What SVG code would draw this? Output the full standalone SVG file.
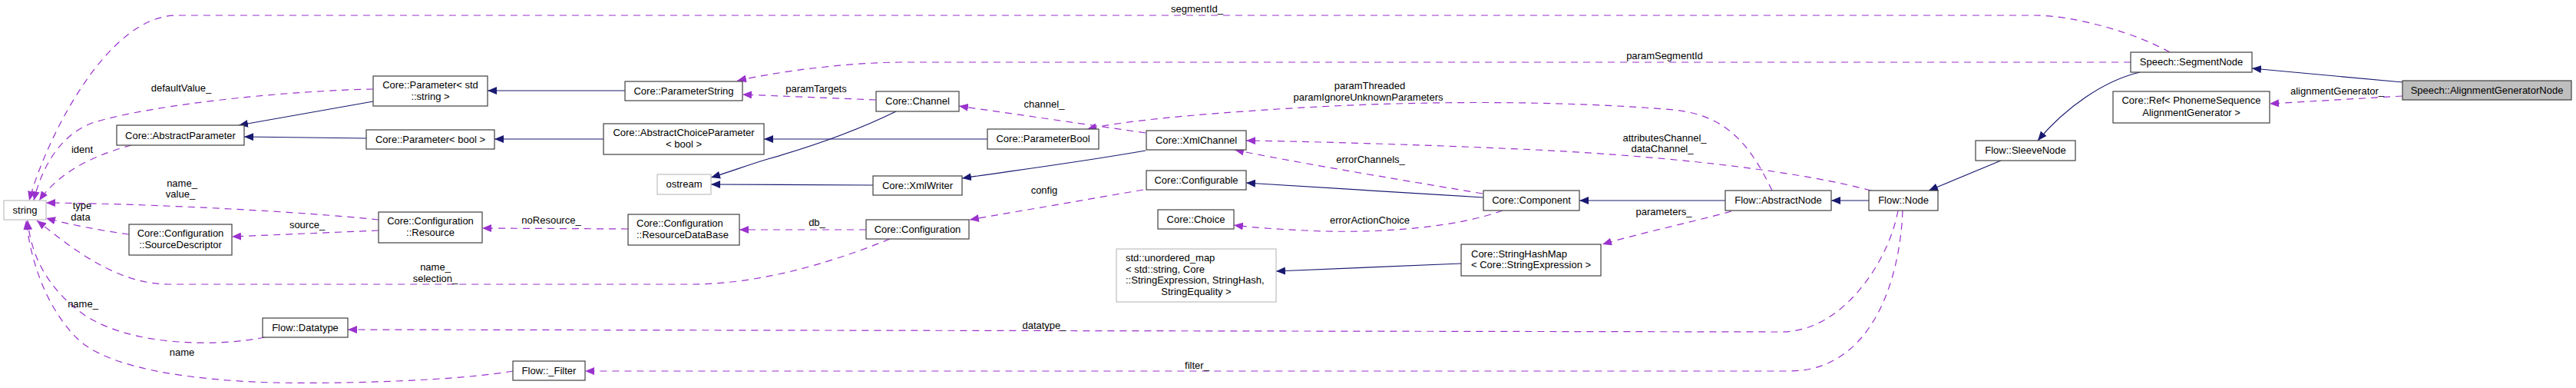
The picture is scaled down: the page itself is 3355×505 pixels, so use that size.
<svg xmlns="http://www.w3.org/2000/svg" width="3355" height="505" viewBox="0 0 3355 505">
<style>
.bg{fill:#ffffff}
.n rect{fill:#ffffff;stroke:#404040;stroke-width:1.2}
.n.u rect{stroke:#bfbfbf}
.n.cur rect{fill:#bfbfbf}
text{font-family:"Liberation Sans",Arial,sans-serif;font-size:13px;fill:#000000}
.c{text-anchor:middle}
.e{fill:none;stroke:#9a32cd;stroke-width:1.2;stroke-dasharray:9,7;marker-end:url(#ap)}
.i{fill:none;stroke:#191970;stroke-width:1.2;marker-end:url(#ab)}
</style>
<defs>
<marker id="ap" markerUnits="userSpaceOnUse" viewBox="0 0 12 10" markerWidth="12" markerHeight="10" refX="12" refY="5" orient="auto"><path d="M0,0 L12,5 L0,10 z" fill="#9a32cd"/></marker>
<marker id="ab" markerUnits="userSpaceOnUse" viewBox="0 0 12 10" markerWidth="12" markerHeight="10" refX="12" refY="5" orient="auto"><path d="M0,0 L12,5 L0,10 z" fill="#191970"/></marker>
</defs>
<rect class="bg" x="0" y="0" width="3355" height="505"/>
<g id="connectors">
<path class="e" d="M2826,68 C2780,42 2700,20 2650,20 L230,20 C140,20 60,180 38,261"/>
<path class="e" d="M486,116 C380,118 200,135 120,160 C80,175 55,215 44,261"/>
<path class="e" d="M171,189 C130,200 80,220 51,261"/>
<path class="e" d="M493,286 C400,276 200,265 60,264"/>
<path class="e" d="M168,305 C130,300 90,292 60,284"/>
<path class="e" d="M493,300 L302,308"/>
<path class="e" d="M1159,311 C1100,335 1000,370 900,370 L220,370 C150,370 90,320 48,287"/>
<path class="e" d="M345,439 C280,452 170,450 110,410 C60,375 40,330 36,287"/>
<path class="e" d="M668,483 C600,495 450,500 357,498 C250,495 140,480 100,440 C60,400 40,340 34,287"/>
<path class="e" d="M818,298 L628,297"/>
<path class="e" d="M1128,299 L963,299"/>
<path class="e" d="M1489,247 L1263,286"/>
<path class="e" d="M1141,130 L967,123"/>
<path class="e" d="M2775,81 L1170,81 C1100,82 1020,92 960,105"/>
<path class="e" d="M1492,173 L1249,138"/>
<path class="e" d="M2308,248 C2280,190 2250,150 2180,143 C2050,132 1850,128 1620,145 C1520,152 1450,160 1416,168"/>
<path class="e" d="M2437,248 C2350,225 2200,205 2000,195 C1850,188 1700,184 1623,183"/>
<path class="e" d="M1931,252 C1800,230 1680,210 1608,195"/>
<path class="e" d="M1957,274 C1900,295 1800,305 1700,300 C1660,298 1630,296 1607,293"/>
<path class="e" d="M3129,125 L2956,135"/>
<path class="e" d="M2255,275 C2200,290 2130,305 2087,318"/>
<path class="e" d="M2472,274 C2460,340 2400,432 2320,432 L453,429"/>
<path class="e" d="M2478,274 C2475,360 2440,483 2330,483 L762,483"/>
<path class="i" d="M814,118 L635,118"/>
<path class="i" d="M486,132 L311,163"/>
<path class="i" d="M477,180 L318,178"/>
<path class="i" d="M786,181 L644,181"/>
<path class="i" d="M1286,181 L995,181"/>
<path class="i" d="M1167,145 C1120,168 1060,190 1000,207 C970,216 950,224 926,231"/>
<path class="i" d="M1137,241 L926,240"/>
<path class="i" d="M1492,196 C1400,212 1320,222 1253,232"/>
<path class="i" d="M1932,257 L1623,238"/>
<path class="i" d="M2247,261 L2057,261"/>
<path class="i" d="M2434,261 L2385,261"/>
<path class="i" d="M2606,209 L2512,248"/>
<path class="i" d="M2787,94 C2740,105 2690,140 2654,183"/>
<path class="i" d="M3129,107 L2933,89"/>
<path class="i" d="M1903,343 L1662,353"/>
<text class="c" x="1559" y="16">segmentId_</text>
<text class="c" x="2168" y="77">paramSegmentId</text>
<text class="c" x="236" y="119">defaultValue_</text>
<text class="c" x="107" y="199">ident</text>
<text class="c" x="237" y="243">name_</text>
<text class="c" x="235" y="257">value_</text>
<text class="c" x="107" y="272">type</text>
<text class="c" x="105" y="287">data</text>
<text class="c" x="400" y="297">source_</text>
<text class="c" x="567" y="352">name_</text>
<text class="c" x="567" y="367">selection_</text>
<text class="c" x="108" y="400">name_</text>
<text class="c" x="237" y="463">name</text>
<text class="c" x="718" y="291">noResource_</text>
<text class="c" x="1064" y="294">db_</text>
<text class="c" x="1063" y="120">paramTargets</text>
<text class="c" x="1360" y="140">channel_</text>
<text class="c" x="1360" y="252">config</text>
<text class="c" x="1784" y="116">paramThreaded</text>
<text class="c" x="1782" y="131">paramIgnoreUnknownParameters</text>
<text class="c" x="2168" y="184">attributesChannel_</text>
<text class="c" x="2165" y="198">dataChannel_</text>
<text class="c" x="1785" y="212">errorChannels_</text>
<text class="c" x="1784" y="291">errorActionChoice</text>
<text class="c" x="2167" y="280">parameters_</text>
<text class="c" x="1360" y="428">datatype_</text>
<text class="c" x="1559" y="480">filter_</text>
<text class="c" x="3044" y="123">alignmentGenerator_</text>
</g>
<g id="string" class="n u"><rect x="5" y="261" width="55" height="25"/><text class="c" x="32.5" y="278">string</text></g>
<g id="abstractParameter" class="n"><rect x="152" y="163" width="166" height="26"/><text class="c" x="235" y="181">Core::AbstractParameter</text></g>
<g id="sourceDescriptor" class="n"><rect x="168" y="292" width="134" height="40"/><text class="c" x="235" y="308">Core::Configuration</text><text class="c" x="235" y="323">::SourceDescriptor</text></g>
<g id="datatype" class="n"><rect x="342" y="414" width="111" height="25"/><text class="c" x="397.5" y="431">Flow::Datatype</text></g>
<g id="parameterStdString" class="n"><rect x="486" y="99" width="149" height="39"/><text class="c" x="560.5" y="115">Core::Parameter&lt; std</text><text class="c" x="560.5" y="130">::string &gt;</text></g>
<g id="parameterBoolT" class="n"><rect x="477" y="169" width="167" height="25"/><text class="c" x="560.5" y="186">Core::Parameter&lt; bool &gt;</text></g>
<g id="resource" class="n"><rect x="493" y="276" width="135" height="40"/><text class="c" x="560.5" y="292">Core::Configuration</text><text class="c" x="560.5" y="307">::Resource</text></g>
<g id="parameterString" class="n"><rect x="814" y="106" width="153" height="25"/><text class="c" x="890.5" y="123">Core::ParameterString</text></g>
<g id="abstractChoiceParameter" class="n"><rect x="786" y="161" width="209" height="40"/><text class="c" x="890.5" y="177">Core::AbstractChoiceParameter</text><text class="c" x="890.5" y="192">&lt; bool &gt;</text></g>
<g id="ostream" class="n u"><rect x="856" y="227" width="70" height="26"/><text class="c" x="891" y="244">ostream</text></g>
<g id="resourceDataBase" class="n"><rect x="818" y="279" width="145" height="40"/><text x="829" y="295">Core::Configuration</text><text x="829" y="310">::ResourceDataBase</text></g>
<g id="filter" class="n"><rect x="668" y="470" width="94" height="25"/><text class="c" x="715" y="487">Flow::_Filter</text></g>
<g id="channel" class="n"><rect x="1141" y="119" width="108" height="26"/><text class="c" x="1195" y="136">Core::Channel</text></g>
<g id="parameterBool" class="n"><rect x="1286" y="168" width="145" height="26"/><text class="c" x="1358.5" y="185">Core::ParameterBool</text></g>
<g id="xmlChannel" class="n"><rect x="1493" y="170" width="130" height="25"/><text class="c" x="1558" y="187">Core::XmlChannel</text></g>
<g id="xmlWriter" class="n"><rect x="1137" y="229" width="116" height="25"/><text class="c" x="1195" y="246">Core::XmlWriter</text></g>
<g id="configurable" class="n"><rect x="1493" y="222" width="130" height="25"/><text class="c" x="1558" y="239">Core::Configurable</text></g>
<g id="choice" class="n"><rect x="1508" y="273" width="99" height="25"/><text class="c" x="1557.5" y="290">Core::Choice</text></g>
<g id="configuration" class="n"><rect x="1128" y="286" width="134" height="25"/><text class="c" x="1195" y="303">Core::Configuration</text></g>
<g id="unorderedMap" class="n u"><rect x="1454" y="324" width="208" height="69"/><text x="1466" y="340">std::unordered_map</text><text x="1466" y="355">&lt; std::string, Core</text><text x="1466" y="369">::StringExpression, StringHash,</text><text class="c" x="1558" y="384">StringEquality &gt;</text></g>
<g id="component" class="n"><rect x="1932" y="248" width="125" height="26"/><text class="c" x="1994.5" y="265">Core::Component</text></g>
<g id="stringHashMap" class="n"><rect x="1903" y="318" width="182" height="41"/><text x="1916" y="335">Core::StringHashMap</text><text x="1916" y="349">&lt; Core::StringExpression &gt;</text></g>
<g id="abstractNode" class="n"><rect x="2247" y="248" width="138" height="26"/><text class="c" x="2316" y="265">Flow::AbstractNode</text></g>
<g id="flowNode" class="n"><rect x="2434" y="248" width="90" height="26"/><text class="c" x="2479" y="265">Flow::Node</text></g>
<g id="sleeveNode" class="n"><rect x="2573" y="183" width="130" height="26"/><text class="c" x="2638" y="200">Flow::SleeveNode</text></g>
<g id="segmentNode" class="n"><rect x="2775" y="68" width="158" height="26"/><text class="c" x="2854" y="85">Speech::SegmentNode</text></g>
<g id="coreRef" class="n"><rect x="2752" y="119" width="204" height="41"/><text class="c" x="2854" y="135">Core::Ref&lt; PhonemeSequence</text><text class="c" x="2854" y="151">AlignmentGenerator &gt;</text></g>
<g id="alignmentGeneratorNode" class="n cur"><rect x="3129" y="105" width="220" height="25"/><text class="c" x="3239" y="122">Speech::AlignmentGeneratorNode</text></g>
</svg>
